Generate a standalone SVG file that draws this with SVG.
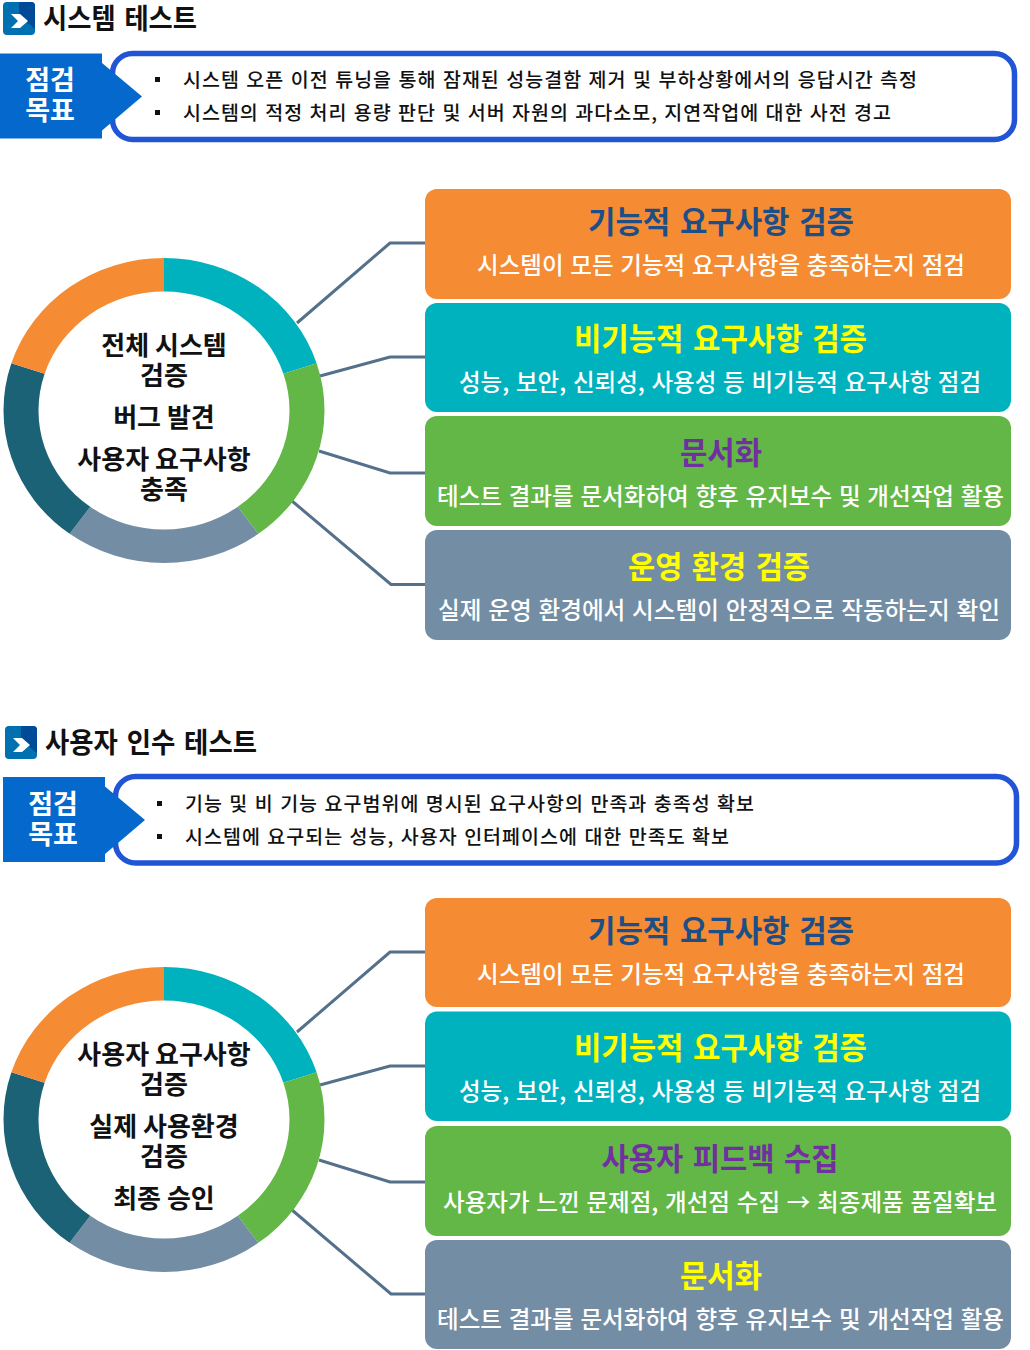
<svg xmlns="http://www.w3.org/2000/svg" width="1030" height="1350" viewBox="0 0 1030 1350">
<style>
text{font-family:"Noto Sans CJK KR","Noto Sans",sans-serif;font-weight:700}
.h{font-size:28px;fill:#111;font-weight:700;word-spacing:3px}
.o{font-size:27px;fill:#fff;text-anchor:middle}
.b{font-size:19.5px;fill:#111;font-weight:500;word-spacing:1px}
.c{font-size:26px;fill:#111;text-anchor:middle;font-weight:700}
.t{font-size:31px;text-anchor:middle;word-spacing:3px}
.s{font-size:24px;fill:#fff;text-anchor:middle;font-weight:500;word-spacing:1.500px}
.ln{fill:none;stroke:#54708a;stroke-width:3}
.panel{fill:#fff;stroke:#2255d5;stroke-width:5.5}
</style>
<defs>
<g id="icon"><rect x="0" y="0" width="32" height="33" rx="4" fill="#0070b0"/><path d="M16 0H28a4 4 0 0 1 4 4V27L16 14Z" fill="#004a98"/><path d="M8 12H17L25 19L17 26H8L15 19Z" fill="#fff"/></g>
<g id="ring">
<path d="M164 258A160.500 152.500 0 0 1 316.640 363.370L283.360 373.730A125.500 119 0 0 0 164 291.500Z" fill="#00b2bd"/>
<path d="M316.640 363.370A160.500 152.500 0 0 1 258.340 533.870L237.770 506.770A125.500 119 0 0 0 283.360 373.730Z" fill="#62b746"/>
<path d="M258.340 533.870A160.500 152.500 0 0 1 69.660 533.870L90.230 506.770A125.500 119 0 0 0 237.770 506.770Z" fill="#738da4"/>
<path d="M69.660 533.870A160.500 152.500 0 0 1 11.360 363.370L44.640 373.730A125.500 119 0 0 0 90.230 506.770Z" fill="#1c6277"/>
<path d="M11.360 363.370A160.500 152.500 0 0 1 164 258V291.500A125.500 119 0 0 0 44.640 373.730Z" fill="#f58b33"/>
</g>
<path id="arrow" d="M0 53.500H102V63L142 96.500L102 130.500V138.500H0Z" fill="#0468cc"/>
</defs>

<g id="connectors">
<path class="ln" d="M297 323L390 243H425"/>
<path class="ln" d="M320 376L390 357H425"/>
<path class="ln" d="M319 451L390 473H425"/>
<path class="ln" d="M292 501L391 584.500H425"/>
<path class="ln" d="M297 1032L390 952H425"/>
<path class="ln" d="M320 1085L390 1066H425"/>
<path class="ln" d="M319 1160L390 1182H425"/>
<path class="ln" d="M292 1210L391 1294H425"/>
</g>

<g id="section1-title"><use href="#icon" x="3" y="2"/><text class="h" x="43" y="29" textLength="154" lengthAdjust="spacingAndGlyphs">시스템 테스트</text></g>
<g id="section1-goal">
<rect class="panel" x="112.500" y="53.500" width="902" height="86" rx="20"/>
<use href="#arrow"/>
<text class="o" x="50" y="90">점검</text><text class="o" x="50" y="120">목표</text>
<rect x="155" y="77" width="5" height="5" fill="#111"/><text class="b" x="183" y="87" textLength="734" lengthAdjust="spacing">시스템 오픈 이전 튜닝을 통해 잠재된 성능결함 제거 및 부하상황에서의 응답시간 측정</text>
<rect x="155" y="110" width="5" height="5" fill="#111"/><text class="b" x="183" y="120" textLength="708" lengthAdjust="spacing">시스템의 적정 처리 용량 판단 및 서버 자원의 과다소모, 지연작업에 대한 사전 경고</text>
</g>
<g id="ring1"><use href="#ring"/>
<text class="c" x="164" y="355">전체 시스템</text><text class="c" x="164" y="385">검증</text><text class="c" x="164" y="427">버그 발견</text><text class="c" x="164" y="469">사용자 요구사항</text><text class="c" x="164" y="499">충족</text></g>
<g id="box1-1"><rect x="425" y="189" width="586" height="110" rx="12" fill="#f58b33"/><text class="t" x="721" y="233" fill="#1d4f86" textLength="266" lengthAdjust="spacingAndGlyphs">기능적 요구사항 검증</text><text class="s" x="721" y="274" textLength="488" lengthAdjust="spacingAndGlyphs">시스템이 모든 기능적 요구사항을 충족하는지 점검</text></g>
<g id="box1-2"><rect x="425" y="303" width="586" height="109" rx="12" fill="#00b2bd"/><text class="t" x="720.500" y="350" fill="#ffff00" textLength="293" lengthAdjust="spacingAndGlyphs">비기능적 요구사항 검증</text><text class="s" x="720" y="391" textLength="522" lengthAdjust="spacingAndGlyphs">성능, 보안, 신뢰성, 사용성 등 비기능적 요구사항 점검</text></g>
<g id="box1-3"><rect x="425" y="416" width="586" height="110" rx="12" fill="#62b746"/><text class="t" x="721" y="464" fill="#7030a0" textLength="82" lengthAdjust="spacingAndGlyphs">문서화</text><text class="s" x="720.500" y="505" textLength="567" lengthAdjust="spacingAndGlyphs">테스트 결과를 문서화하여 향후 유지보수 및 개선작업 활용</text></g>
<g id="box1-4"><rect x="425" y="530" width="586" height="110" rx="12" fill="#738da4"/><text class="t" x="719" y="578" fill="#ffff00" textLength="182" lengthAdjust="spacingAndGlyphs">운영 환경 검증</text><text class="s" x="719" y="619" textLength="562" lengthAdjust="spacingAndGlyphs">실제 운영 환경에서 시스템이 안정적으로 작동하는지 확인</text></g>

<g id="section2-title"><use href="#icon" x="5" y="726"/><text class="h" x="45" y="753" textLength="212" lengthAdjust="spacingAndGlyphs">사용자 인수 테스트</text></g>
<g id="section2-goal">
<rect class="panel" x="115.500" y="776.500" width="901" height="86.500" rx="20"/>
<use href="#arrow" x="3" y="723.500"/>
<text class="o" x="53" y="814">점검</text><text class="o" x="53" y="844">목표</text>
<rect x="157" y="801" width="5" height="5" fill="#111"/><text class="b" x="185" y="811" textLength="569" lengthAdjust="spacing">기능 및 비 기능 요구범위에 명시된 요구사항의 만족과 충족성 확보</text>
<rect x="157" y="834" width="5" height="5" fill="#111"/><text class="b" x="185" y="844" textLength="544" lengthAdjust="spacing">시스템에 요구되는 성능, 사용자 인터페이스에 대한 만족도 확보</text>
</g>
<g id="ring2"><use href="#ring" y="709"/>
<text class="c" x="164" y="1064">사용자 요구사항</text><text class="c" x="164" y="1094">검증</text><text class="c" x="164" y="1136">실제 사용환경</text><text class="c" x="164" y="1166">검증</text><text class="c" x="164" y="1208">최종 승인</text></g>
<g id="box2-1"><rect x="425" y="898" width="586" height="109" rx="12" fill="#f58b33"/><text class="t" x="721" y="942" fill="#1d4f86" textLength="266" lengthAdjust="spacingAndGlyphs">기능적 요구사항 검증</text><text class="s" x="721" y="983" textLength="488" lengthAdjust="spacingAndGlyphs">시스템이 모든 기능적 요구사항을 충족하는지 점검</text></g>
<g id="box2-2"><rect x="425" y="1011.500" width="586" height="109.500" rx="12" fill="#00b2bd"/><text class="t" x="720.500" y="1059" fill="#ffff00" textLength="293" lengthAdjust="spacingAndGlyphs">비기능적 요구사항 검증</text><text class="s" x="720" y="1100" textLength="522" lengthAdjust="spacingAndGlyphs">성능, 보안, 신뢰성, 사용성 등 비기능적 요구사항 점검</text></g>
<g id="box2-3"><rect x="425" y="1126" width="586" height="110" rx="12" fill="#62b746"/><text class="t" x="720" y="1170" fill="#7030a0" textLength="237" lengthAdjust="spacingAndGlyphs">사용자 피드백 수집</text><text class="s" x="720" y="1211" textLength="554" lengthAdjust="spacingAndGlyphs">사용자가 느낀 문제점, 개선점 수집 → 최종제품 품질확보</text></g>
<g id="box2-4"><rect x="425" y="1240" width="586" height="109" rx="12" fill="#738da4"/><text class="t" x="721" y="1287" fill="#ffff00" textLength="82" lengthAdjust="spacingAndGlyphs">문서화</text><text class="s" x="720.500" y="1328" textLength="567" lengthAdjust="spacingAndGlyphs">테스트 결과를 문서화하여 향후 유지보수 및 개선작업 활용</text></g>
</svg>
